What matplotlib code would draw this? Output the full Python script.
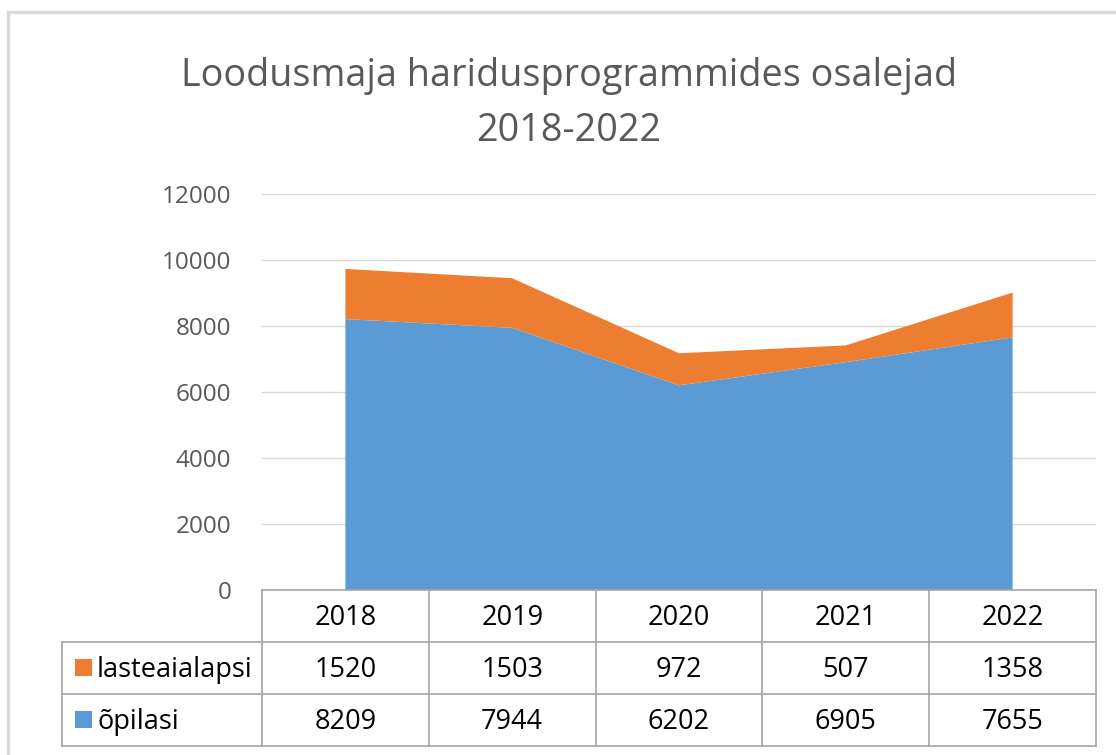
import numpy as np
import matplotlib
matplotlib.use("Agg")
import matplotlib.pyplot as plt
from matplotlib.patches import Rectangle

years = ["2018", "2019", "2020", "2021", "2022"]
lasteaialapsi = [1520, 1503, 972, 507, 1358]
opilasi = [8209, 7944, 6202, 6905, 7655]
series_names = ["lasteaialapsi", "õpilasi"]
yticks = [0, 2000, 4000, 6000, 8000, 10000, 12000]

BLUE = "#5B9BD5"
ORANGE = "#ED7D31"
GRID = "#D9D9D9"
TEXT = "#595959"
TABLE_LINE = "#A6A6A6"

plt.rcParams["font.family"] = ["Open Sans", "DejaVu Sans"]

W, H = 1116, 755
fig = plt.figure(figsize=(W / 100, H / 100), dpi=100)


def px_box(x0, y0, x1, y1):
    # pixel box (top-left origin) -> figure fraction rect
    return [x0 / W, 1 - y1 / H, (x1 - x0) / W, (y1 - y0) / H]


# outer chart border (only top/left visible in the screenshot)
fig.patches.append(Rectangle((8 / W, -0.1), 1.2, 1 - 12 / H + 0.1,
                             transform=fig.transFigure, fill=False,
                             edgecolor=GRID, linewidth=2.5))

# title
fig.text(569 / W, 1 - 76 / H, "Loodusmaja haridusprogrammides osalejad",
         ha="center", va="center", fontsize=27.2, color=TEXT)
fig.text(569 / W, 1 - 131 / H, "2018-2022",
         ha="center", va="center", fontsize=27.2, color=TEXT)

# plot area
ax = fig.add_axes(px_box(262, 194, 1096, 590))
x = np.arange(len(years))
ax.stackplot(x, opilasi, lasteaialapsi, colors=[BLUE, ORANGE], linewidth=0)
ax.set_xlim(-0.5, len(years) - 0.5)
ax.set_ylim(0, 12000)
ax.set_yticks(yticks)
ax.set_yticklabels([str(v) for v in yticks])
ax.tick_params(axis="y", length=0, pad=22, labelsize=17.5, labelcolor=TEXT)
ax.set_xticks([])
for s in ax.spines.values():
    s.set_visible(False)
ax.grid(axis="y", color=GRID, linewidth=1)
ax.set_axisbelow(True)

# data table below the plot
tab = fig.add_axes(px_box(62, 590, 1096, 746))
label_w = 200 / ((1096 - 262) / len(years))
tab.set_xlim(-label_w, len(years))
tab.set_ylim(3, 0)
tab.axis("off")

lw = 1.2
# header row top border
tab.plot([0, len(years)], [0, 0], color=TABLE_LINE, lw=lw, clip_on=False)
# horizontal borders for body rows
for yy in [1, 2, 3]:
    tab.plot([-label_w, len(years)], [yy, yy], color=TABLE_LINE, lw=lw, clip_on=False)
# vertical borders
tab.plot([-label_w, -label_w], [1, 3], color=TABLE_LINE, lw=lw, clip_on=False)
for xx in range(len(years) + 1):
    tab.plot([xx, xx], [0, 3], color=TABLE_LINE, lw=lw, clip_on=False)

fs = 19.5
for i, yr in enumerate(years):
    tab.text(i + 0.5, 0.53, yr, ha="center", va="center", fontsize=fs, color="#000000")
    tab.text(i + 0.5, 1.53, str(lasteaialapsi[i]), ha="center", va="center", fontsize=fs, color="#000000")
    tab.text(i + 0.5, 2.53, str(opilasi[i]), ha="center", va="center", fontsize=fs, color="#000000")

for r, (name, col) in enumerate(zip(series_names, [ORANGE, BLUE])):
    yc = 1.5 + r
    tab.add_patch(Rectangle((-label_w + 0.08, yc - 0.18), 0.1, 0.34, color=col, lw=0))
    tab.text(-label_w + 0.21, yc + 0.03, name, ha="left", va="center", fontsize=fs, color="#000000")

fig.savefig("out.png", dpi=100)
